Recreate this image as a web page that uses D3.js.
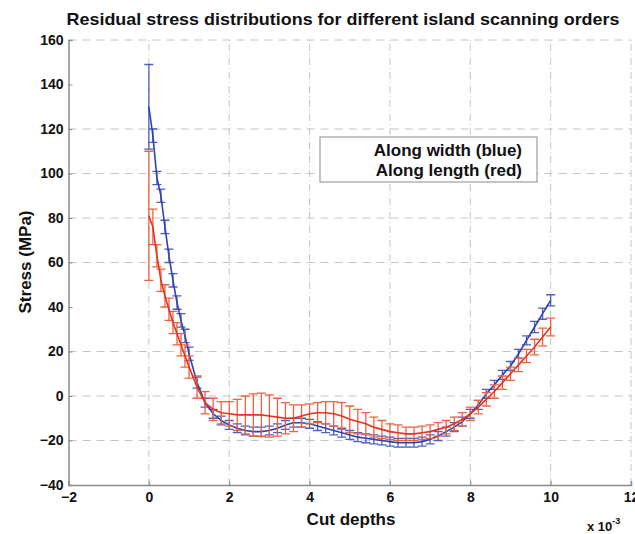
<!DOCTYPE html>
<html>
<head>
<meta charset="utf-8">
<script src="https://cdn.jsdelivr.net/npm/d3@7"></script>
<style>
  body { margin: 0; background: #fff; }
  text { font-family: "Liberation Sans", Arial, sans-serif; font-weight: bold; fill: #111; }
</style>
</head>
<body>
<div id="vis1"></div>
<script>
const frame_width = 635;
const frame_height = 534;

// cut depth (x 10^-3)
const depths = [0, 0.1, 0.2, 0.3, 0.4, 0.5, 0.6, 0.7, 0.8, 0.9, 1.0,
  1.2, 1.4, 1.6, 1.8, 2.0, 2.2, 2.4, 2.6, 2.8, 3.0, 3.2, 3.4, 3.6, 3.8, 4.0,
  4.2, 4.4, 4.6, 4.8, 5.0, 5.2, 5.4, 5.6, 5.8, 6.0, 6.2, 6.4, 6.6, 6.8, 7.0,
  7.2, 7.4, 7.6, 7.8, 8.0, 8.2, 8.4, 8.6, 8.8, 9.0, 9.2, 9.4, 9.6, 9.8, 10.0];

// along width (blue)
const width_mean = [130, 117, 98, 90, 76, 63, 52, 42, 34, 27, 19,
  6, -3, -8, -11, -13, -14.5, -15.5, -16, -16, -15.5, -14.5, -13, -12, -12, -12.5,
  -13.5, -14.5, -15.5, -16.5, -17.5, -18.5, -19, -19.5, -20, -20.5, -21, -21, -21, -20.5, -19.5,
  -18, -16, -14, -11.5, -8, -4, 1, 5, 9.5, 13.5, 19, 25, 31, 37, 43];
const width_err = [19, 3, 3, 3, 3, 3, 3, 3, 3, 3, 3,
  2.5, 2, 2, 2, 2, 2, 2, 2, 2, 2, 2, 2, 2, 2, 2,
  2, 2, 2, 2, 2, 2, 2, 2, 2, 2, 2, 2, 2, 2, 2,
  2, 2, 2, 2, 2, 2, 2, 2, 2, 2, 2, 2, 2.5, 2.5, 2.5];

// along length (red)
const length_mean = [81, 76, 63, 52, 45, 39, 33, 28, 23, 18, 13,
  4, -3, -6, -7.5, -8, -8.5, -8.5, -8.5, -8.5, -9, -9.5, -10, -10, -9, -8,
  -7.5, -7.5, -8, -9, -10.5, -11.5, -12.5, -14, -15, -16, -16.5, -17, -17, -16.5, -16,
  -15, -14, -12.5, -10.5, -8, -5, -1.5, 2, 6, 10, 14, 18, 22, 26.5, 31];
const length_err = [29, 8, 5, 5, 5, 5, 5, 5, 5, 5, 5,
  5, 5, 5, 5, 5.5, 7, 8.5, 9.5, 9.8, 9.5, 8.5, 7, 6, 5, 4.5,
  4.5, 5, 5.5, 6, 6, 5.5, 5, 4.5, 4, 3.5, 3.5, 3, 3, 3, 3,
  3, 3, 3, 3, 3, 3, 3, 3, 3, 3, 3, 3, 3.5, 4, 4];

const x_ticks = [-2, 0, 2, 4, 6, 8, 10, 12];
const y_ticks = [-40, -20, 0, 20, 40, 60, 80, 100, 120, 140, 160];
const y_grid = [-20, 0, 20, 60, 80, 100, 120, 160];

const series = [
  {mean: width_mean, err: width_err, line: "#2f43b0", bar: "#4d5fc2"},
  {mean: length_mean, err: length_err, line: "#e8321c", bar: "#f2603f"}
];

const frame1 = d3.select("#vis1")
  .append("svg")
    .attr("width", frame_width)
    .attr("height", frame_height);

const x_scale = d3.scaleLinear().domain([-2, 12]).range([68.5, 631]);
const y_scale = d3.scaleLinear().domain([-40, 160]).range([485, 40]);

// grid
frame1.append("g")
  .selectAll("line")
  .data(y_grid)
  .enter()
  .append("line")
    .attr("x1", x_scale(-2))
    .attr("x2", x_scale(12))
    .attr("y1", d => y_scale(d))
    .attr("y2", d => y_scale(d))
    .attr("stroke", "#c4c4c4")
    .attr("stroke-dasharray", "8,6");

frame1.append("g")
  .selectAll("line")
  .data(x_ticks.slice(1))
  .enter()
  .append("line")
    .attr("x1", d => x_scale(d))
    .attr("x2", d => x_scale(d))
    .attr("y1", y_scale(-40))
    .attr("y2", y_scale(160))
    .attr("stroke", "#c4c4c4")
    .attr("stroke-dasharray", "7,3,1,3");

// axes
const yAxis = frame1.append("g")
  .attr("transform", "translate(" + x_scale(-2) + ",0)")
  .call(d3.axisLeft(y_scale).tickValues(y_ticks).tickSize(-4).tickPadding(5));
const xAxis = frame1.append("g")
  .attr("transform", "translate(0," + y_scale(-40) + ")")
  .call(d3.axisBottom(x_scale).tickValues(x_ticks).tickSize(-4).tickPadding(7));

[yAxis, xAxis].forEach(ax => {
  ax.select(".domain").attr("stroke", "#8a8a8a").attr("stroke-width", 1.5);
  ax.selectAll(".tick line").attr("stroke", "#8a8a8a");
  ax.selectAll("text")
    .attr("font-family", "Liberation Sans, Arial, sans-serif")
    .attr("font-weight", "bold")
    .attr("font-size", 14)
    .attr("fill", "#111");
});

// error bars + mean lines
const cap = 4.5;
series.forEach(s => {
  const g = frame1.append("g")
    .attr("fill", "none");

  const pts = depths.map((d, i) => ({x: d, m: s.mean[i], e: s.err[i]}));

  g.selectAll(".bar")
    .data(pts)
    .enter()
    .append("path")
      .attr("class", "bar")
      .attr("stroke", s.bar)
      .attr("stroke-width", 1.3)
      .attr("d", d => {
        const x = x_scale(d.x), y0 = y_scale(d.m - d.e), y1 = y_scale(d.m + d.e);
        return "M" + x + "," + y0 + "V" + y1 +
          "M" + (x - cap) + "," + y0 + "H" + (x + cap) +
          "M" + (x - cap) + "," + y1 + "H" + (x + cap);
      });

  g.append("path")
    .datum(pts)
    .attr("stroke", s.line)
    .attr("stroke-width", 1.6)
    .attr("d", d3.line().x(d => x_scale(d.x)).y(d => y_scale(d.m)));
});

// legend
frame1.append("rect")
  .attr("x", 320)
  .attr("y", 137)
  .attr("width", 217)
  .attr("height", 45)
  .attr("fill", "#fff")
  .attr("stroke", "#8a8a8a");

frame1.append("text")
  .attr("x", 522).attr("y", 156)
  .attr("text-anchor", "end")
  .attr("font-size", 17)
  .text("Along width (blue)");
frame1.append("text")
  .attr("x", 522).attr("y", 176)
  .attr("text-anchor", "end")
  .attr("font-size", 17)
  .text("Along length (red)");

// title and labels
frame1.append("text")
  .attr("x", 343).attr("y", 25)
  .attr("text-anchor", "middle")
  .attr("font-size", 17)
  .attr("textLength", 553)
  .attr("lengthAdjust", "spacingAndGlyphs")
  .text("Residual stress distributions for different island scanning orders");

frame1.append("text")
  .attr("x", 351).attr("y", 525)
  .attr("text-anchor", "middle")
  .attr("font-size", 17)
  .text("Cut depths");

frame1.append("text")
  .attr("transform", "translate(31,262) rotate(-90)")
  .attr("text-anchor", "middle")
  .attr("font-size", 17)
  .text("Stress (MPa)");

const expo = frame1.append("text")
  .attr("x", 587).attr("y", 531)
  .attr("font-size", 13);
expo.append("tspan").text("x 10");
expo.append("tspan").attr("dy", -7).attr("font-size", 9).text("-3");
</script>
</body>
</html>
